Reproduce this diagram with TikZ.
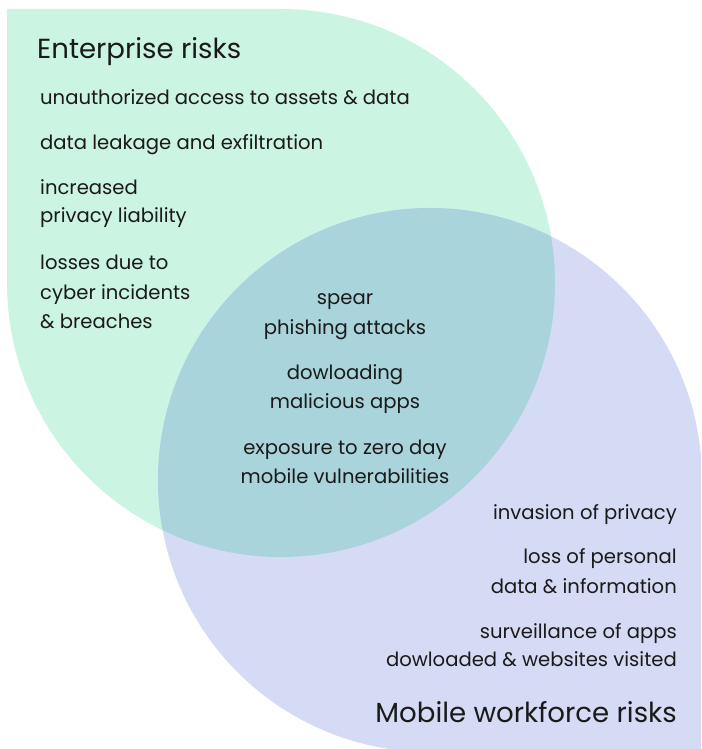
\documentclass[tikz,border=0pt]{standalone}
\usepackage{fontspec}
\setmainfont{Poppins}
\definecolor{entgreen}{HTML}{CCF4E3}
\definecolor{mobblue}{HTML}{D5DBF5}
\definecolor{overlapc}{HTML}{A9D4DB}
\definecolor{txt}{HTML}{1A1A1A}
\begin{document}
\begin{tikzpicture}[x=1pt,y=1pt,
  lbl/.style={inner sep=0pt,text=txt,font=\fontsize{19.6}{23}\selectfont},
  ttl/.style={inner sep=0pt,text=txt,font=\fontsize{27.6}{32}\selectfont},
  lft/.style={lbl,anchor=base west},
  rgt/.style={lbl,anchor=base east},
  ctr/.style={lbl,anchor=base}]
\useasboundingbox (0,0) rectangle (701,749);
\clip (0,0) rectangle (701,749);
% shapes
\def\greenpath{(7,466) -- (7,740) -- (281,740) arc[start angle=90,end angle=-180,radius=274] -- cycle}
\def\bluepath{(702,269) arc[start angle=0,end angle=270,radius=272] -- (702,-3) -- cycle}
\fill[entgreen] \greenpath;
\fill[mobblue] \bluepath;
\begin{scope}
  \clip \greenpath;
  \fill[overlapc] \bluepath;
\end{scope}
% enterprise
\node[ttl,anchor=base west] (et) at (37,690) {Enterprise risks};
\node[lft] (e1) at (40,644) {unauthorized access to assets \& data};
\node[lft] (e2) at (40,599) {data leakage and exfiltration};
\node[lft] (e3a) at (40,554) {increased};
\node[lft] (e3b) at (40,526) {privacy liability};
\node[lft] (e4a) at (40,479) {losses due to};
\node[lft] (e4b) at (40,449) {cyber incidents};
\node[lft] (e4c) at (40,420) {\& breaches};
% overlap
\node[ctr] (c1a) at (345,444) {spear};
\node[ctr] (c1b) at (345,414) {phishing attacks};
\node[ctr] (c2a) at (345,369) {dowloading};
\node[ctr] (c2b) at (345,340) {malicious apps};
\node[ctr] (c3a) at (345,294) {exposure to zero day};
\node[ctr] (c3b) at (345,265) {mobile vulnerabilities};
% mobile
\node[rgt] (m1) at (677,229) {invasion of privacy};
\node[rgt] (m2a) at (677,185) {loss of personal};
\node[rgt] (m2b) at (677,155) {data \& information};
\node[rgt] (m3a) at (677,110) {surveillance of apps};
\node[rgt] (m3b) at (677,82) {dowloaded \& websites visited};
\node[ttl,anchor=base east] (mt) at (677,26) {Mobile workforce risks};
\end{tikzpicture}
\end{document}
